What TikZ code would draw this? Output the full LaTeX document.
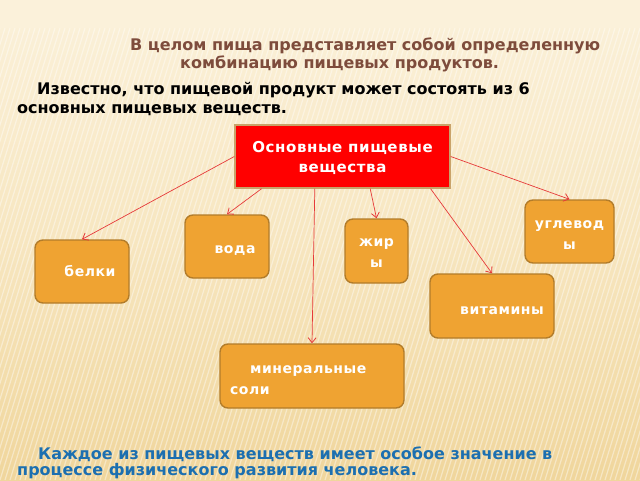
\documentclass[tikz,border=0pt]{standalone}
\usepackage{fontspec}
\setmainfont{DejaVu Sans}
\newfontfamily\boxfont[LetterSpace=4]{DejaVu Sans}
\newfontfamily\mainfont[LetterSpace=4]{DejaVu Sans}
\usetikzlibrary{arrows.meta,calc}
\definecolor{bgtop}{HTML}{FBF1DA}
\definecolor{bgmid}{HTML}{F7E6C0}
\definecolor{bgbot}{HTML}{F0D69C}
\definecolor{boxfill}{HTML}{EFA332}
\definecolor{boxline}{HTML}{B27C2A}
\definecolor{redline}{HTML}{C9A36A}
\definecolor{hdr}{HTML}{7E4C3C}
\definecolor{blu}{HTML}{1C6FB0}
\definecolor{arr}{HTML}{E63A3A}
\newcommand{\lowtxt}[3][c]{\raisebox{-#2}[\height][\depth]{\begin{tabular}{@{}#1@{}}#3\end{tabular}}}
\tikzset{
  food/.style={draw=boxline, line width=1.4pt, fill=boxfill, rounded corners=8pt,
    text=white, align=center, font=\boxfont\bfseries\fontsize{14}{21}\selectfont, inner sep=0pt},
  mainbox/.style={draw=redline, line width=1.4pt, fill=red, text=white, align=center,
    font=\mainfont\bfseries\fontsize{15}{20}\selectfont, inner sep=0pt},
  txt/.style={anchor=base west, inner sep=0pt, font=\bfseries\fontsize{16}{18}\selectfont},
  link/.style={draw=arr, line width=0.7pt, -{Straight Barb[length=5pt,width=8pt,line width=0.8pt]}}
}
\begin{document}
\begin{tikzpicture}[x=1pt,y=-1pt]
\useasboundingbox (0,0) rectangle (640,480);
\shade[top color=bgtop, bottom color=bgbot, middle color=bgmid] (0,0) rectangle (640,480);
\fill[bgtop] (0,0) rectangle (640,28);
\begin{scope}
\clip (0,28) rectangle (640,480);
\foreach \x in {-200,-195,...,640}
  \draw[white, opacity=0.4, line width=1.2pt] (\x,480) -- (\x+140,28);
\end{scope}

% texts
\node[txt, text=hdr] (h1) at (130,50) {В целом пища представляет собой определенную};
\node[txt, text=hdr] (h2) at (180,68) {комбинацию пищевых продуктов.};
\node[txt, text=black] (k1) at (37,94) {Известно, что пищевой продукт может состоять из 6};
\node[txt, text=black] (k2) at (17,113) {основных пищевых веществ.};
\node[txt, text=blu] (b1) at (38,459) {Каждое из пищевых веществ имеет особое значение в};
\node[txt, text=blu] (b2) at (17,475) {процессе физического развития человека.};

% boxes
\node[mainbox, minimum width=215pt, minimum height=63pt] (m) at (342.5,156.5)
  {\lowtxt{2pt}{Основные пищевые\\вещества}};
\node[food, minimum width=89pt, minimum height=63pt] (ug) at (569.5,231.5) {\lowtxt{3pt}{углевод\\ы}};
\node[food, minimum width=84pt, minimum height=63pt] (vo) at (227,246.5) {\lowtxt{3pt}{\hspace*{16pt}вода}};
\node[food, minimum width=63pt, minimum height=64pt] (zh) at (376.5,251) {\lowtxt{2pt}{жир\\ы}};
\node[food, minimum width=94pt, minimum height=63pt] (be) at (82,271.5) {\lowtxt{1pt}{\hspace*{16pt}белки}};
\node[food, minimum width=124pt, minimum height=64pt] (vi) at (492,306) {\lowtxt{4pt}{\hspace*{20pt}витамины}};
\node[food, minimum width=184pt, minimum height=64pt] (mi) at (312,376)
  {\lowtxt[l]{4pt}{\hspace*{20pt}минеральные\\\makebox[164pt][l]{соли}}};

% connectors
\draw[link] (m.west) -- (be.north);
\draw[link] ($(m.south west)!0.126!(m.south east)$) -- (vo.north);
\draw[link] ($(m.south west)!0.372!(m.south east)$) -- (mi.north);
\draw[link] ($(m.south west)!0.628!(m.south east)$) -- (zh.north);
\draw[link] ($(m.south west)!0.907!(m.south east)$) -- (vi.north);
\draw[link] (m.east) -- (ug.north);
\end{tikzpicture}
\end{document}
